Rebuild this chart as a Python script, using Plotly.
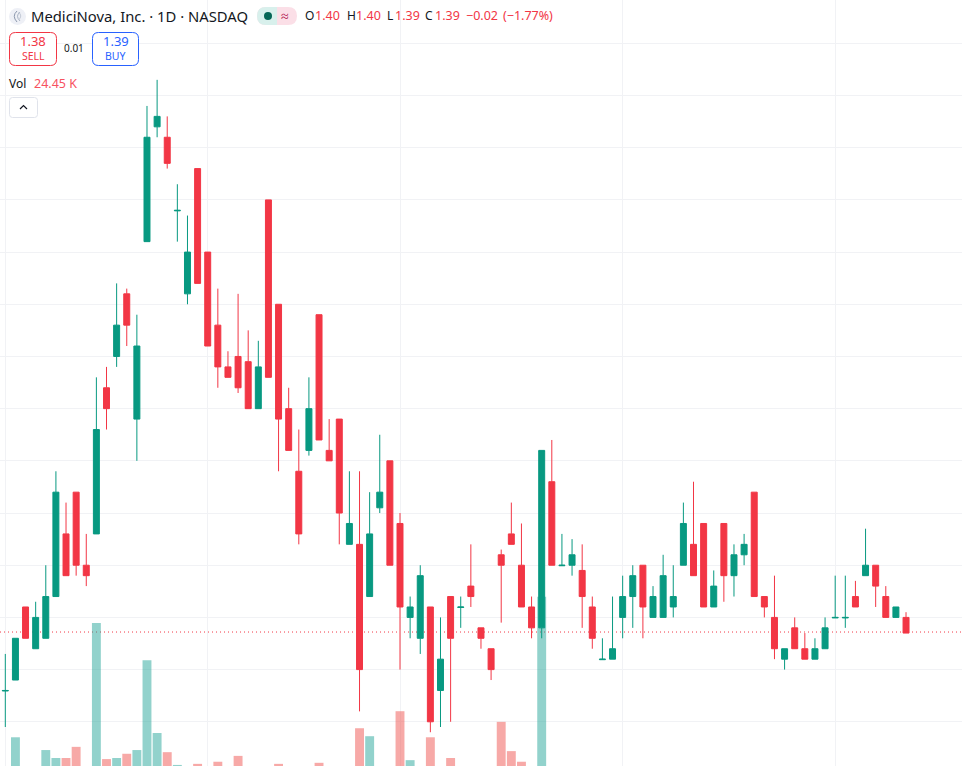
import plotly.graph_objects as go

# daily candles (cents, with a few half cents)
opens = [1.3295, 1.34, 1.41, 1.37, 1.38, 1.42, 1.48, 1.52, 1.45, 1.48,
         1.62, 1.65, 1.71, 1.59, 1.76, 1.87, 1.86, 1.7895, 1.71, 1.83,
         1.75, 1.68, 1.64, 1.65, 1.645, 1.60, 1.80, 1.70, 1.60, 1.54,
         1.56, 1.69, 1.56, 1.59, 1.47, 1.47, 1.42, 1.505, 1.55, 1.49,
         1.40, 1.38, 1.41, 1.33, 1.42, 1.4095, 1.43, 1.39, 1.37, 1.46,
         1.48, 1.45, 1.41, 1.39, 1.53, 1.4495, 1.45, 1.445, 1.41, 1.3595,
         1.36, 1.40, 1.42, 1.45, 1.40, 1.40, 1.41, 1.45, 1.47, 1.49,
         1.41, 1.49, 1.44, 1.46, 1.52, 1.42, 1.40, 1.36, 1.39, 1.37,
         1.36, 1.37, 1.3995, 1.3995, 1.42, 1.44, 1.45, 1.42, 1.40, 1.40]
highs = [1.365, 1.38, 1.41, 1.415, 1.45, 1.54, 1.51, 1.52, 1.48, 1.63,
         1.64, 1.72, 1.715, 1.69, 1.89, 1.915, 1.88, 1.815, 1.785, 1.83,
         1.75, 1.715, 1.655, 1.71, 1.675, 1.665, 1.80, 1.70, 1.62, 1.58,
         1.63, 1.69, 1.59, 1.59, 1.54, 1.54, 1.52, 1.575, 1.55, 1.50,
         1.42, 1.45, 1.41, 1.40, 1.42, 1.42, 1.47, 1.39, 1.37, 1.465,
         1.51, 1.49, 1.42, 1.56, 1.57, 1.48, 1.475, 1.47, 1.42, 1.38,
         1.42, 1.44, 1.45, 1.45, 1.43, 1.46, 1.45, 1.51, 1.53, 1.49,
         1.445, 1.49, 1.47, 1.48, 1.52, 1.42, 1.44, 1.37, 1.40, 1.385,
         1.38, 1.40, 1.44, 1.44, 1.435, 1.485, 1.45, 1.43, 1.41, 1.405]
lows = [1.295, 1.34, 1.38, 1.37, 1.38, 1.42, 1.44, 1.44, 1.43, 1.48,
        1.58, 1.64, 1.66, 1.55, 1.76, 1.86, 1.83, 1.76, 1.70, 1.72,
        1.66, 1.62, 1.63, 1.615, 1.60, 1.60, 1.63, 1.54, 1.56, 1.47,
        1.555, 1.57, 1.55, 1.47, 1.47, 1.31, 1.42, 1.50, 1.45, 1.35,
        1.38, 1.365, 1.29, 1.295, 1.30, 1.39, 1.41, 1.37, 1.34, 1.395,
        1.47, 1.41, 1.38, 1.38, 1.45, 1.45, 1.44, 1.39, 1.37, 1.36,
        1.36, 1.38, 1.39, 1.38, 1.40, 1.40, 1.40, 1.45, 1.44, 1.41,
        1.41, 1.415, 1.42, 1.45, 1.42, 1.40, 1.36, 1.35, 1.37, 1.36,
        1.36, 1.37, 1.40, 1.39, 1.41, 1.44, 1.41, 1.40, 1.40, 1.385]
closes = [1.33, 1.38, 1.38, 1.40, 1.42, 1.52, 1.44, 1.45, 1.44, 1.58,
          1.60, 1.68, 1.68, 1.66, 1.86, 1.88, 1.835, 1.79, 1.75, 1.72,
          1.66, 1.64, 1.63, 1.62, 1.60, 1.64, 1.63, 1.59, 1.56, 1.48,
          1.60, 1.57, 1.55, 1.50, 1.49, 1.35, 1.48, 1.52, 1.45, 1.41,
          1.41, 1.44, 1.30, 1.36, 1.38, 1.41, 1.42, 1.38, 1.35, 1.45,
          1.47, 1.41, 1.39, 1.56, 1.45, 1.45, 1.46, 1.42, 1.38, 1.36,
          1.37, 1.42, 1.44, 1.41, 1.42, 1.44, 1.42, 1.49, 1.44, 1.41,
          1.43, 1.44, 1.46, 1.47, 1.42, 1.41, 1.37, 1.37, 1.37, 1.36,
          1.37, 1.39, 1.40, 1.40, 1.41, 1.45, 1.43, 1.40, 1.41, 1.385]
# volume in thousands, most bars sit below the cropped edge of the picture
volumes = [22, 80, 18, 15, 56, 41, 41, 62, 20, 295,
           39, 41, 49, 56, 225, 88, 52, 28, 20, 30,
           18, 34, 16, 45, 14, 19, 21, 30, 15, 12,
           17, 32, 11, 20, 14, 97, 82, 18, 21, 129,
           37, 22, 80, 16, 41, 12, 13, 15, 19, 109,
           54, 34, 23, 344, 24, 12, 9, 11, 14, 10,
           13, 12, 15, 18, 11, 9, 10, 16, 14, 19,
           12, 18, 11, 10, 22, 10, 17, 9, 13, 11,
           10, 12, 14, 10, 9, 12, 13, 11, 8, 24.45]
days = list(range(len(closes)))
month_starts = [0, 20, 39, 61, 82]

UP = "#089981"
DOWN = "#f23645"
W, H = 962, 766


def px(x):
    return x / W


def py(y):
    return 1 - y / H


def rrect(x0, y0, x1, y1, r):
    # rounded box as a paper-space path
    a, b, c, d = px(x0), px(x1), py(y0), py(y1)
    rx, ry = r / W, r / H
    return (f"M{a + rx},{c} L{b - rx},{c} Q{b},{c} {b},{c - ry} L{b},{d + ry} Q{b},{d} {b - rx},{d} "
            f"L{a + rx},{d} Q{a},{d} {a},{d + ry} L{a},{c - ry} Q{a},{c} {a + rx},{c} Z")


def arc(x0, y0, x1, y1, x2, y2):
    return f"M{px(x0)},{py(y0)} Q{px(x1)},{py(y1)} {px(x2)},{py(y2)}"


def label(x, y, text, size, color, anchor="left", family="Noto Sans"):
    return dict(xref="paper", yref="paper", x=px(x), y=py(y), text=text, showarrow=False,
                xanchor=anchor, yanchor="middle", font=dict(family=family, size=size, color=color),
                borderpad=0, borderwidth=0)


bar_colors = ["rgba(38,166,154,0.5)" if c >= o else "rgba(239,83,80,0.5)" for o, c in zip(opens, closes)]

fig = go.Figure()
fig.add_trace(go.Bar(x=days, y=volumes, marker=dict(color=bar_colors, line_width=0), width=0.88,
                     yaxis="y", showlegend=False))
fig.add_trace(go.Candlestick(x=days, open=opens, high=highs, low=lows, close=closes, yaxis="y2",
                             increasing=dict(line=dict(color=UP, width=1), fillcolor=UP),
                             decreasing=dict(line=dict(color=DOWN, width=1), fillcolor=DOWN),
                             whiskerwidth=0, showlegend=False))

shapes = [
    # last price line
    dict(type="line", xref="paper", yref="y2", x0=0, x1=1, y0=closes[-1] + 0.001, y1=closes[-1] + 0.001,
         line=dict(color=DOWN, width=1, dash="1px,3px"), layer="below"),
    # logo
    dict(type="circle", xref="paper", yref="paper", x0=px(9), x1=px(26), y0=py(8), y1=py(25),
         fillcolor="#eef0f6", line_width=0),
    dict(type="path", xref="paper", yref="paper", path=arc(17, 11, 11.5, 16, 17, 22),
         line=dict(color="#8c98ad", width=1)),
    dict(type="path", xref="paper", yref="paper", path=arc(20, 12, 15, 16, 20, 21),
         line=dict(color="#a9b3c4", width=1)),
    dict(type="path", xref="paper", yref="paper", path=arc(18.5, 12, 23, 16, 18.5, 20),
         line=dict(color="#c3cad6", width=1)),
    # market status pill
    dict(type="path", xref="paper", yref="paper", path=rrect(257, 7, 297, 25, 9), fillcolor="#fbdfe7", line_width=0),
    dict(type="path", xref="paper", yref="paper",
         path=f"M{px(277)},{py(7)} L{px(266)},{py(7)} Q{px(257)},{py(7)} {px(257)},{py(16)} "
              f"Q{px(257)},{py(25)} {px(266)},{py(25)} L{px(277)},{py(25)} Z",
         fillcolor="#d8f0ec", line_width=0),
    dict(type="circle", xref="paper", yref="paper", x0=px(264), x1=px(272), y0=py(12), y1=py(20),
         fillcolor="#056656", line_width=0),
    # sell / buy boxes and collapse button
    dict(type="path", xref="paper", yref="paper", path=rrect(9.5, 32.5, 56.5, 65.5, 6),
         fillcolor="#ffffff", line=dict(color=DOWN, width=1)),
    dict(type="path", xref="paper", yref="paper", path=rrect(92.5, 32.5, 138.5, 65.5, 6),
         fillcolor="#ffffff", line=dict(color="#2962ff", width=1)),
    dict(type="path", xref="paper", yref="paper", path=rrect(9.5, 97.5, 37.5, 117.5, 3),
         fillcolor="#ffffff", line=dict(color="#e0e3eb", width=1)),
    dict(type="path", xref="paper", yref="paper",
         path=f"M{px(20)},{py(109)} L{px(23.5)},{py(105.5)} L{px(27)},{py(109)}",
         line=dict(color="#131722", width=1.2)),
]

DARK = "#131722"
annotations = [
    label(31, 16, "MediciNova, Inc. · 1D · NASDAQ", 14.8, DARK),
    label(285, 16, "≈", 14, "#b2134f", anchor="center"),
    label(305, 16, "O", 12, DARK),
    label(315, 16, "1.40", 12.5, DOWN),
    label(347, 16, "H", 12, DARK),
    label(356, 16, "1.40", 12.5, DOWN),
    label(387, 16, "L", 12, DARK),
    label(395, 16, "1.39", 12.5, DOWN),
    label(425, 16, "C", 12, DARK),
    label(435, 16, "1.39", 12.5, DOWN),
    label(466, 16, "−0.02", 12.5, DOWN),
    label(503, 16, "(−1.77%)", 12.5, DOWN),
    label(33, 41, "1.38", 13, DOWN, anchor="center"),
    label(33, 56, "SELL", 10.5, DOWN, anchor="center"),
    label(74, 48, "0.01", 10, DARK, anchor="center"),
    label(115.5, 41, "1.39", 13, "#2962ff", anchor="center"),
    label(115.5, 56, "BUY", 10.5, "#2962ff", anchor="center"),
    label(9, 83, "Vol", 12, DARK),
    label(34, 83, "24.45 K", 12.5, "#f7525f"),
]

fig.update_layout(
    width=W, height=H, margin=dict(l=0, r=0, t=0, b=0), paper_bgcolor="#ffffff", plot_bgcolor="#ffffff",
    barmode="overlay", boxgap=0.41, boxgroupgap=0, showlegend=False, hovermode=False,
    xaxis=dict(range=[-0.524, 94.53], tickmode="array", tickvals=month_starts, showticklabels=False,
               ticks="", showgrid=True, gridcolor="#f1f2f5", gridwidth=1, zeroline=False,
               rangeslider=dict(visible=False)),
    yaxis=dict(range=[26, 1466], showgrid=False, zeroline=False, showticklabels=False, ticks=""),
    yaxis2=dict(range=[1.25765, 1.9915], overlaying="y", tick0=1.30, dtick=0.05, showticklabels=False,
                ticks="", showgrid=True, gridcolor="#f1f2f5", gridwidth=1, zeroline=False),
    shapes=shapes, annotations=annotations,
)

fig.write_html("out.html", config=dict(displayModeBar=False),
               post_script="document.body.style.margin='0';document.documentElement.style.overflow='hidden';")
